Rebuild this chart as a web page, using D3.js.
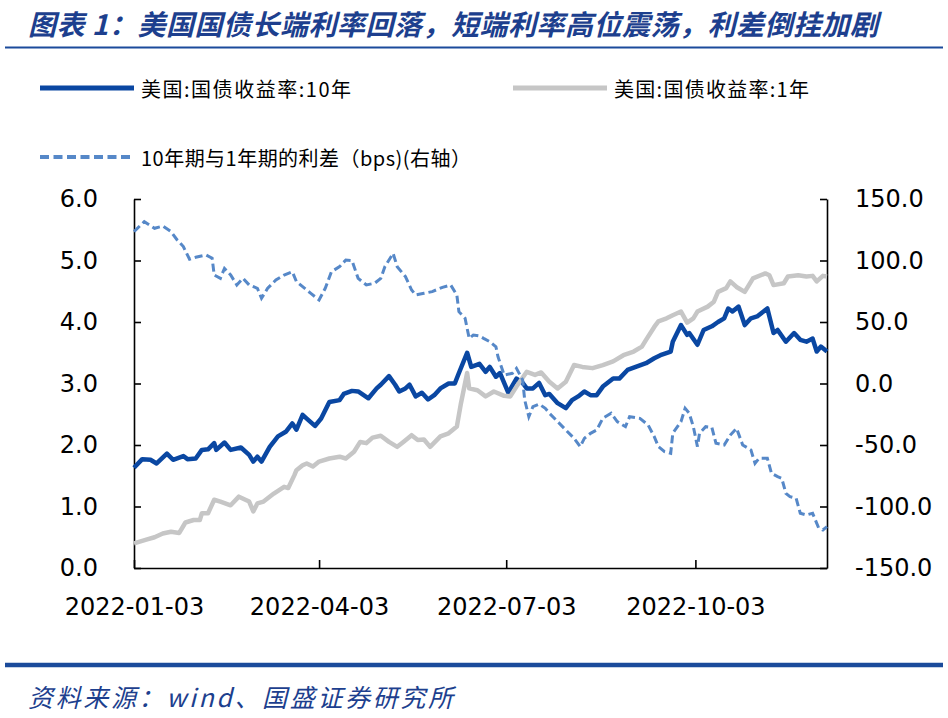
<!DOCTYPE html>
<html><head><meta charset="utf-8">
<script src="https://cdn.jsdelivr.net/npm/d3@7"></script>
<style>body{margin:0;background:#fff}</style></head>
<body>
<svg id="c" width="948" height="718"></svg>
<script>
// ---------- DATA ----------
const title = "图表 1：美国国债长端利率回落，短端利率高位震荡，利差倒挂加剧";
const source = "资料来源：wind、国盛证券研究所";
const seriesNames = ["美国:国债收益率:10年", "美国:国债收益率:1年", "10年期与1年期的利差（bps)(右轴）"];
const xTickDates = ["2022-01-03", "2022-04-03", "2022-07-03", "2022-10-03"];
const xDomain = ["2022-01-03", "2022-12-06"];
const leftTicks = [0, 1, 2, 3, 4, 5, 6];
const rightTicks = [-150, -100, -50, 0, 50, 100, 150];

const tenYearDates = ["01-03","01-07","01-11","01-14","01-19","01-22","01-27","01-29",
 "02-02","02-05","02-08","02-11","02-12","02-16","02-19","02-24","02-28",
 "03-02","03-04","03-06","03-10","03-14","03-18","03-21","03-23","03-26","03-28",
 "04-01","04-04","04-08","04-13","04-15","04-19","04-22","04-27",
 "05-01","05-03","05-07","05-10","05-12","05-15","05-17","05-20","05-23","05-26","05-29",
 "06-01","06-05","06-08","06-10","06-14","06-16","06-20","06-23","06-25","06-28","06-30",
 "07-04","07-08","07-11","07-13","07-16","07-19","07-22","07-24","07-28",
 "08-01","08-04","08-07","08-10","08-13","08-16","08-19","08-24","08-27","08-31",
 "09-04","09-09","09-13","09-16","09-21","09-22","09-26","09-29","09-30",
 "10-04","10-07","10-11","10-14","10-17","10-19","10-21","10-24","10-27","10-30",
 "11-02","11-07","11-10","11-12","11-16","11-20","11-23","11-26","11-29",
 "12-01","12-03","12-06"];
const tenYearValues = [1.63,1.77,1.76,1.70,1.86,1.76,1.82,1.77,
 1.78,1.92,1.93,2.03,1.92,2.04,1.92,1.96,1.84,
 1.73,1.81,1.73,1.97,2.14,2.22,2.35,2.25,2.49,2.43,
 2.31,2.43,2.70,2.73,2.83,2.88,2.87,2.76,
 2.92,2.98,3.12,2.98,2.87,2.92,2.98,2.79,2.85,2.74,2.81,
 2.92,3.00,3.00,3.17,3.50,3.27,3.32,3.19,3.27,3.11,3.17,
 2.85,3.08,3.01,2.92,2.92,3.01,2.81,2.83,2.68,
 2.60,2.73,2.79,2.87,2.81,2.81,2.95,3.08,3.08,3.22,
 3.27,3.33,3.41,3.46,3.52,3.68,3.95,3.79,3.82,
 3.63,3.87,3.93,4.00,4.06,4.22,4.17,4.25,3.95,4.06,
 4.09,4.22,3.82,3.87,3.68,3.82,3.71,3.68,3.73,
 3.52,3.60,3.52];

const oneYearDates = ["01-03","01-09","01-13","01-17","01-21","01-25","01-28",
 "02-01","02-04","02-05","02-08","02-11","02-14","02-19","02-23","02-28",
 "03-02","03-04","03-07","03-12","03-17","03-19","03-22","03-23","03-26","03-28","03-31",
 "04-03","04-08","04-13","04-16","04-20","04-23","04-26","04-29",
 "05-03","05-07","05-11","05-14","05-18","05-21","05-24","05-27",
 "06-01","06-05","06-09","06-11","06-14","06-15","06-19","06-23","06-27",
 "07-02","07-05","07-08","07-13","07-17","07-20","07-24","07-28",
 "08-01","08-05","08-09","08-14","08-19","08-24","08-29",
 "09-03","09-07","09-09","09-13","09-15","09-19","09-22","09-26","09-29",
 "10-02","10-04","10-09","10-12","10-14","10-18","10-20","10-23","10-27","10-31",
 "11-06","11-08","11-10","11-15","11-17","11-22","11-26","11-29",
 "12-01","12-04","12-06"];
const oneYearValues = [0.40,0.46,0.50,0.56,0.59,0.57,0.74,
 0.78,0.78,0.89,0.89,1.11,1.08,1.02,1.16,1.08,
 0.92,1.05,1.08,1.21,1.32,1.30,1.51,1.59,1.67,1.70,1.65,
 1.73,1.78,1.81,1.78,1.89,2.05,2.03,2.12,
 2.15,2.05,1.97,2.05,2.16,2.08,2.09,1.97,
 2.14,2.19,2.30,2.68,3.17,2.92,2.89,2.79,2.87,
 2.80,2.79,2.95,3.19,3.14,3.18,3.03,2.92,
 3.03,3.30,3.27,3.25,3.30,3.36,3.46,
 3.52,3.60,3.71,3.92,4.01,4.06,4.11,4.17,3.99,
 4.06,4.17,4.25,4.33,4.49,4.55,4.66,4.57,4.49,4.71,
 4.79,4.76,4.60,4.63,4.74,4.76,4.74,4.75,
 4.66,4.75,4.74];

const spreadDates = ["01-03","01-08","01-13","01-17","01-21","01-24","01-27","01-30",
 "02-02","02-07","02-10","02-11","02-14","02-16","02-19","02-22","02-25","02-28",
 "03-04","03-06","03-09","03-13","03-17","03-21","03-23","03-26","03-30",
 "04-03","04-06","04-09","04-13","04-16","04-19","04-22","04-26","04-30",
 "05-03","05-05","05-09","05-11","05-15","05-18","05-20","05-24","05-28",
 "06-02","06-06","06-09","06-10","06-13","06-15","06-17","06-20","06-22","06-25","06-28","06-29",
 "07-02","07-06","07-08","07-11","07-12","07-14","07-16","07-19","07-22","07-24","07-28",
 "08-01","08-05","08-08","08-10","08-13","08-16","08-19","08-23","08-26","08-30",
 "09-01","09-06","09-10","09-13","09-15","09-18","09-21","09-22","09-26","09-28","09-30",
 "10-02","10-04","10-05","10-08","10-11","10-13","10-17","10-20","10-23","10-26","10-30",
 "11-01","11-03","11-07","11-09","11-12","11-14","11-16","11-18","11-21","11-23","11-26","11-29",
 "12-02","12-04","12-06"];
const spreadValues = [123.5,131.6,126.2,128.0,123.5,116.7,111.3,101.0,
 102.6,104.5,101.8,88.2,85.5,93.6,88.2,80.1,85.5,80.1,
 77.4,69.3,77.4,84.2,88.2,90.9,82.8,78.7,73.3,
 67.9,77.4,90.9,95.0,100.4,99.9,85.5,80.1,81.5,
 85.5,95.0,105.8,95.0,86.9,76.0,72.0,73.3,74.7,
 78.2,80.1,72.0,58.4,53.0,36.7,39.4,38.6,36.7,34.0,29.9,21.8,
 6.9,8.3,12.3,2.9,-13.4,-27.0,-18.8,-16.7,-20.2,-24.2,-31.0,
 -37.8,-44.6,-51.3,-44.6,-40.5,-37.8,-28.3,-24.2,-31.0,-35.1,
 -27.0,-28.3,-33.7,-43.2,-51.3,-55.4,-56.8,-40.5,-31.0,-20.2,-24.2,
 -35.1,-51.3,-40.5,-35.1,-35.6,-48.6,-50.0,-41.9,-36.4,-50.0,-54.0,
 -64.9,-60.8,-60.8,-73.0,-75.7,-77.1,-89.3,-92.0,-93.3,-105.5,-106.9,-105.5,
 -117.7,-119.1,-116.4];

// ---------- CHART ----------
const svg = d3.select("#c");
const parse = d3.timeParse("%Y-%m-%d");
const zip = (ds, vs) => ds.map((d, i) => ({date: parse("2022-" + d), value: vs[i]}));
const tenYear = zip(tenYearDates, tenYearValues);
const oneYear = zip(oneYearDates, oneYearValues);
const spread = zip(spreadDates, spreadValues);

const plot = {left: 134, right: 827, top: 199, bottom: 568};
const x = d3.scaleTime().domain(xDomain.map(parse)).range([plot.left, plot.right]);
const yL = d3.scaleLinear().domain([0, 6]).range([plot.bottom, plot.top]);
const yR = d3.scaleLinear().domain([-150, 150]).range([plot.bottom, plot.top]);

const cjk = "'Noto Sans CJK SC', 'Noto Sans', sans-serif";
const num = "'DejaVu Sans', Verdana, sans-serif";
const navy = "#1D3F8E";

// title
svg.append("text").attr("x", 28).attr("y", 23).attr("dominant-baseline", "central")
  .attr("font-family", cjk).attr("font-size", 28).attr("font-weight", "bold")
  .attr("font-style", "italic").attr("fill", navy)
  .attr("textLength", 850).attr("lengthAdjust", "spacing").text(title);
svg.append("line").attr("x1", 5).attr("x2", 943).attr("y1", 47.5).attr("y2", 47.5)
  .attr("stroke", "#1B4B9B").attr("stroke-width", 2);

// bottom rule and source
svg.append("line").attr("x1", 5).attr("x2", 943).attr("y1", 665).attr("y2", 665)
  .attr("stroke", "#1B4B9B").attr("stroke-width", 4.5);
svg.append("text").attr("x", 28).attr("y", 696).attr("dominant-baseline", "central")
  .attr("font-family", cjk).attr("font-size", 25).attr("font-style", "italic")
  .attr("fill", navy).attr("textLength", 425).attr("lengthAdjust", "spacing").text(source);

// legend
const colors = ["#0A47A2", "#C6C6C6", "#5688C8"];
const legend = [
  {x: 40, y: 88, name: seriesNames[0], color: colors[0], dash: null, w: 5, len: 210},
  {x: 513, y: 88, name: seriesNames[1], color: colors[1], dash: null, w: 5, len: 195},
  {x: 40, y: 157, name: seriesNames[2], color: colors[2], dash: "9,4.5", w: 4, len: 330}
];
legend.forEach(l => {
  svg.append("line").attr("x1", l.x).attr("x2", l.x + 94).attr("y1", l.y).attr("y2", l.y)
    .attr("stroke", l.color).attr("stroke-width", l.w).attr("stroke-dasharray", l.dash);
  svg.append("text").attr("x", l.x + 101).attr("y", l.y).attr("dominant-baseline", "central")
    .attr("font-family", cjk).attr("font-size", 20).attr("fill", "#000")
    .attr("textLength", l.len).attr("lengthAdjust", "spacing").text(l.name);
});

// axes
const fmt = d => d.toFixed(1);
const axL = svg.append("g").attr("transform", `translate(${plot.left},0)`)
  .call(d3.axisLeft(yL).tickValues(leftTicks).tickFormat(fmt).tickSize(-7).tickSizeOuter(0).tickPadding(36));
const axR = svg.append("g").attr("transform", `translate(${plot.right},0)`)
  .call(d3.axisRight(yR).tickValues(rightTicks).tickFormat(fmt).tickSize(-7).tickSizeOuter(0).tickPadding(28));
const axB = svg.append("g").attr("transform", `translate(0,${plot.bottom})`)
  .call(d3.axisBottom(x).tickValues(xTickDates.map(parse)).tickFormat(d3.timeFormat("%Y-%m-%d"))
    .tickSize(-8).tickSizeOuter(0).tickPadding(30));
[axL, axR, axB].forEach(a => {
  a.select(".domain").attr("stroke", "#000").attr("stroke-width", 1.6);
  a.selectAll(".tick line").attr("stroke", "#000").attr("stroke-width", 1.6);
  a.selectAll("text").attr("font-family", num).attr("font-size", 24).attr("fill", "#000");
});

// lines
const lineL = d3.line().x(d => x(d.date)).y(d => yL(d.value));
const lineR = d3.line().x(d => x(d.date)).y(d => yR(d.value));
svg.append("path").datum(tenYear).attr("d", lineL).attr("fill", "none")
  .attr("stroke", colors[0]).attr("stroke-width", 4.5).attr("stroke-linejoin", "round");
svg.append("path").datum(oneYear).attr("d", lineL).attr("fill", "none")
  .attr("stroke", colors[1]).attr("stroke-width", 4.5).attr("stroke-linejoin", "round");
svg.append("path").datum(spread).attr("d", lineR).attr("fill", "none")
  .attr("stroke", colors[2]).attr("stroke-width", 3).attr("stroke-dasharray", "8,4");
</script>
</body></html>
